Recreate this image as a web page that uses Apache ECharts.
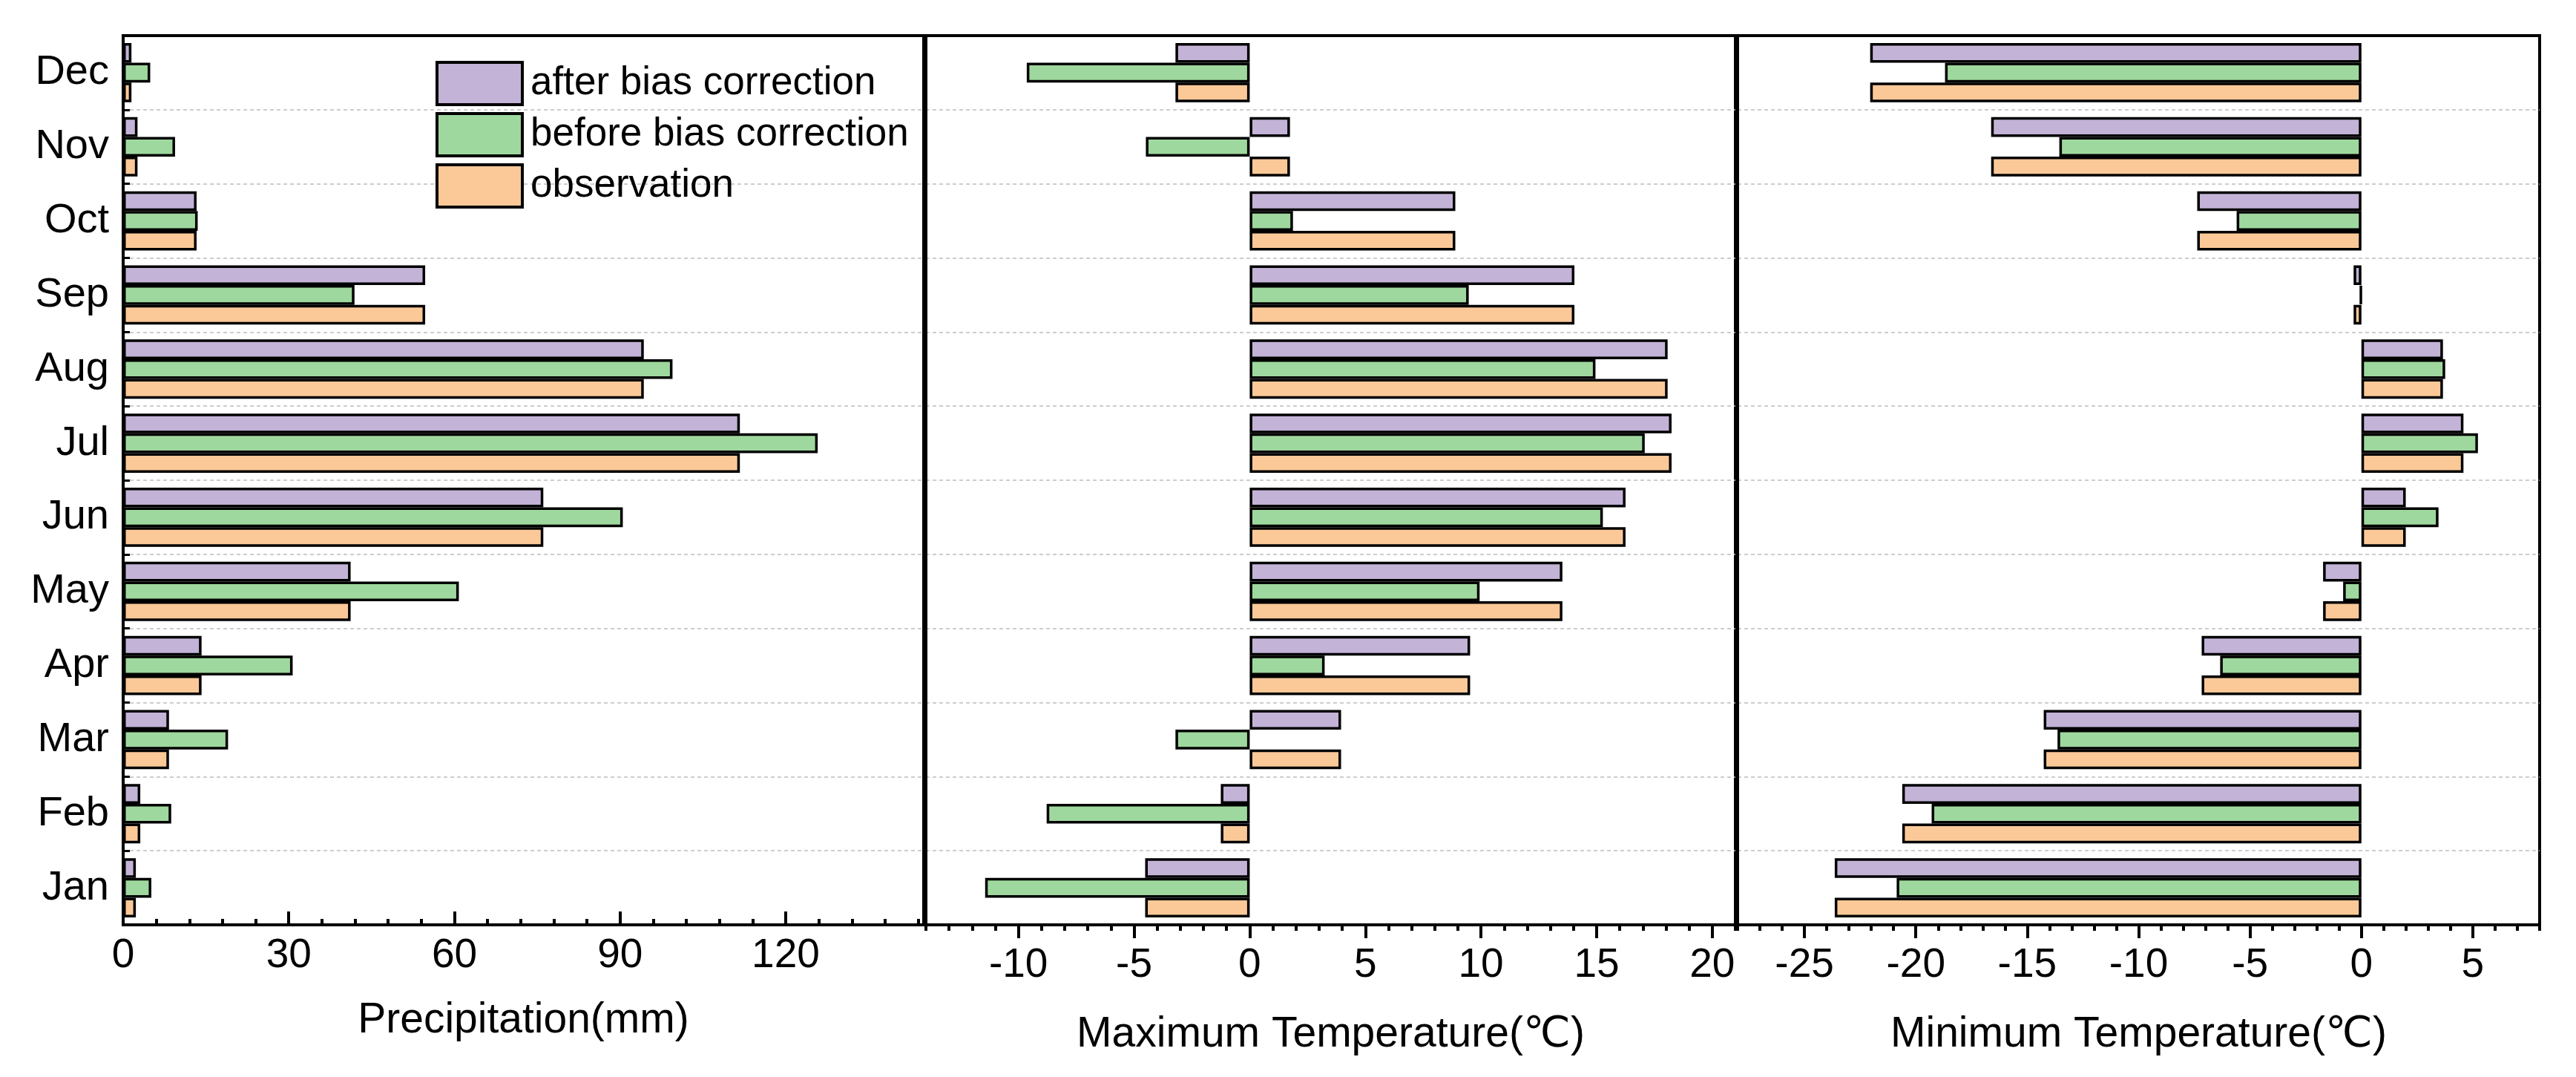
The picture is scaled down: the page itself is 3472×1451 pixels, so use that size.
<!DOCTYPE html>
<html>
<head>
<meta charset="utf-8">
<style>
html,body{margin:0;padding:0;background:#fff;}
#c{width:3472px;height:1451px;}
</style>
<script src="https://cdn.jsdelivr.net/npm/echarts@6/dist/echarts.min.js"></script>
</head>
<body>
<div id="c"></div>
<script>
const months = ['Jan','Feb','Mar','Apr','May','Jun','Jul','Aug','Sep','Oct','Nov','Dec'];
const seriesNames = ['after bias correction','before bias correction','observation'];
const colors = ['#C3B3D7','#9FD89E','#FBC998'];

const precipAfter  = [2.3, 3.1, 8.3, 14.2, 41.2, 76.1, 111.7, 94.3, 54.7, 13.3, 2.6, 1.5];
const precipBefore = [5.1, 8.7, 19.0, 30.7, 60.8, 90.5, 125.8, 99.5, 41.9, 13.5, 9.4, 4.9];
const precipObs    = [2.3, 3.1, 8.3, 14.2, 41.2, 76.1, 111.7, 94.3, 54.7, 13.3, 2.6, 1.5];

const tmaxAfter  = [-4.52, -1.25, 3.95, 9.53, 13.52, 16.25, 18.24, 18.07, 14.04, 8.89, 1.74, -3.21];
const tmaxBefore = [-11.44, -8.78, -3.21, 3.24, 9.94, 15.27, 17.08, 14.95, 9.47, 1.87, -4.49, -9.64];
const tmaxObs    = [-4.52, -1.25, 3.95, 9.53, 13.52, 16.25, 18.24, 18.07, 14.04, 8.89, 1.74, -3.21];

const tminAfter  = [-23.64, -20.61, -14.26, -7.17, -1.72, 1.99, 4.58, 3.66, -0.35, -7.37, -16.62, -22.05];
const tminBefore = [-20.86, -19.29, -13.64, -6.34, -0.82, 3.46, 5.23, 3.76, -0.05, -5.6, -13.56, -18.69];
const tminObs    = [-23.64, -20.61, -14.26, -7.17, -1.72, 1.99, 4.58, 3.66, -0.35, -7.37, -16.62, -22.05];

const precipTicks = [0, 30, 60, 90, 120];
const tmaxTicks = [-10, -5, 0, 5, 10, 15, 20];
const tminTicks = [-25, -20, -15, -10, -5, 0, 5];

const axisTitles = ['Precipitation(mm)', 'Maximum Temperature(℃)', 'Minimum Temperature(℃)'];

const FONT = "'Liberation Sans', Arial, 'DejaVu Sans', sans-serif";
const chart = echarts.init(document.getElementById('c'));

const panels = [
  {left: 166, width: 1079, min: 0, max: 145, minor: 6, ticks: precipTicks, inside: true, margin: 14, nameGap: 101, data: [precipAfter, precipBefore, precipObs]},
  {left: 1248, width: 1091, min: -14, max: 21, minor: 1, ticks: tmaxTicks, inside: false, margin: 27, nameGap: 120, data: [tmaxAfter, tmaxBefore, tmaxObs]},
  {left: 2342, width: 1081, min: -28, max: 8, minor: 1, ticks: tminTicks, inside: false, margin: 27, nameGap: 120, data: [tminAfter, tminBefore, tminObs]}
];

const splitStyle = {show: true, showMinLine: false, showMaxLine: false, lineStyle: {color: '#bdbdbd', width: 1.5, type: [5, 4]}};

const grids = [], xAxes = [], yAxes = [], series = [];
panels.forEach((p, i) => {
  grids.push({left: p.left, top: 48, width: p.width, height: 1198, show: true, borderColor: '#000', borderWidth: 4, containLabel: false});
  xAxes.push({
    gridIndex: i, type: 'value', position: 'bottom', min: p.min, max: p.max, interval: p.minor,
    axisLine: {show: true, onZero: false, lineStyle: {color: '#000', width: 4}},
    axisTick: {show: true, inside: p.inside, length: 8, lineStyle: {color: '#000', width: 4}},
    axisLabel: {show: true, customValues: p.ticks, fontSize: 55, color: '#000', fontFamily: FONT, margin: p.margin},
    splitLine: {show: false},
    name: axisTitles[i], nameLocation: 'middle', nameGap: p.nameGap,
    nameTextStyle: {fontSize: 57, color: '#000', fontFamily: FONT}
  });
  xAxes.push({
    gridIndex: i, type: 'value', position: 'bottom', min: p.min, max: p.max, interval: p.minor,
    axisLine: {show: false},
    axisTick: {show: true, inside: p.inside, length: 18, customValues: p.ticks, lineStyle: {color: '#000', width: 4}},
    axisLabel: {show: false},
    splitLine: {show: false}
  });
});

yAxes.push({
  gridIndex: 0, type: 'category', data: months, position: 'left',
  axisLine: {show: true, onZero: false, lineStyle: {color: '#000', width: 4}},
  axisTick: {show: true, inside: true, alignWithLabel: true, length: 18, lineStyle: {color: '#000', width: 3.5}},
  axisLabel: {show: true, fontSize: 56, color: '#000', fontFamily: FONT, margin: 19},
  splitLine: splitStyle
});
yAxes.push({
  gridIndex: 0, type: 'category', data: months, position: 'left',
  axisLine: {show: false},
  axisTick: {show: true, inside: true, alignWithLabel: false, length: 9, lineStyle: {color: '#000', width: 3}},
  axisLabel: {show: false},
  splitLine: {show: false}
});
[1, 2].forEach(g => {
  yAxes.push({
    gridIndex: g, type: 'category', data: months, position: 'left',
    axisLine: {show: true, onZero: false, lineStyle: {color: '#000', width: 4}},
    axisTick: {show: false},
    axisLabel: {show: false},
    splitLine: splitStyle
  });
});

const yIdx = [0, 2, 3];
panels.forEach((p, i) => {
  p.data.forEach((arr, s) => {
    series.push({
      name: seriesNames[s], type: 'bar', xAxisIndex: i * 2, yAxisIndex: yIdx[i],
      data: arr, barGap: '0%', barCategoryGap: '20%',
      itemStyle: {color: colors[s], borderColor: '#000', borderWidth: 3.5},
      emphasis: {disabled: true}, animation: false
    });
  });
});

chart.setOption({
  animation: false,
  backgroundColor: '#fff',
  textStyle: {fontFamily: FONT},
  legend: {
    data: seriesNames, orient: 'vertical', left: 582, top: 77,
    itemWidth: 115, itemHeight: 57, itemGap: 8, icon: 'rect',
    itemStyle: {borderColor: '#000', borderWidth: 4},
    textStyle: {fontSize: 53, color: '#000', fontFamily: FONT, padding: [0, 0, 0, 6]},
    selectedMode: false
  },
  grid: grids, xAxis: xAxes, yAxis: yAxes, series: series
});
</script>
</body>
</html>
